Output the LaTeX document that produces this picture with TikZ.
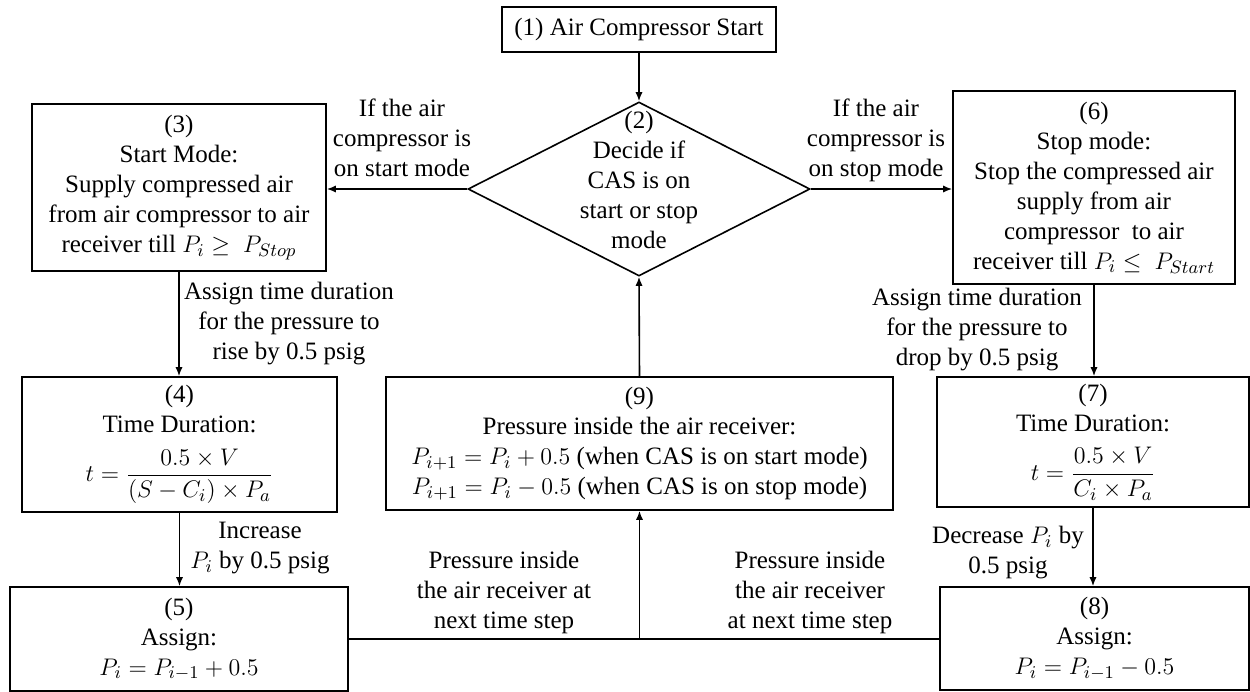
\documentclass[tikz,border=0pt]{standalone}
\usepackage{amsmath}
\usepackage{fontspec}
\setmainfont{Liberation Serif}
\usetikzlibrary{shapes.geometric,arrows.meta}
\newcommand\diagfont{\fontsize{12.5}{15}\selectfont}
\begin{document}
\begin{tikzpicture}[x=0.5pt,y=-0.5pt,
  box/.style={draw, line width=0.8pt, rectangle, inner sep=0pt, align=center, font=\diagfont},
  decision/.style={draw, line width=0.8pt, diamond, inner sep=0pt},
  lbl/.style={inner sep=0pt, align=center, font=\diagfont},
  arr/.style={line width=0.8pt, -{Latex[length=4.5pt,width=3.6pt]}},
  link/.style={line width=0.8pt}]
\useasboundingbox (0,0) rectangle (1250,692);

% process boxes
\node[box, minimum width=137pt, minimum height=22.5pt] (b1) at (639,29.5) {(1) Air Compressor Start};
\node[decision, minimum width=171pt, minimum height=87pt] (d2) at (639,189) {};
\node[lbl] (t2) at (639,180) {(2)\\Decide if\\CAS is on\\start or stop\\mode};
\node[box, minimum width=147pt, minimum height=83.5pt] (b3) at (179,187.5)
  {(3)\\Start Mode:\\Supply compressed air\\from air compressor to air\\receiver till $P_i \geq\ P_{Stop}$};
\node[box, minimum width=157.5pt, minimum height=67.5pt] (b4) at (179.5,444.5)
  {(4)\\Time Duration:\\[7pt]$t=\dfrac{0.5\times V}{(S-C_i)\times P_a}$};
\node[box, minimum width=169pt, minimum height=52pt] (b5) at (179,639)
  {(5)\\Assign:\\$P_i=P_{i-1}+0.5$};
\node[box, minimum width=141pt, minimum height=96.5pt] (b6) at (1094,187.5)
  {(6)\\Stop mode:\\Stop the compressed air\\supply from air\\compressor\ \ to air\\receiver till $P_i \leq\ P_{Start}$};
\node[box, minimum width=156pt, minimum height=65pt] (b7) at (1093,442)
  {(7)\\Time Duration:\\[7pt]$t=\dfrac{0.5\times V}{C_i\times P_a}$};
\node[box, minimum width=154.5pt, minimum height=51.5pt] (b8) at (1094.5,638.5)
  {(8)\\Assign:\\$P_i=P_{i-1}-0.5$};
\node[box, minimum width=253.5pt, minimum height=66.5pt] (b9) at (639.5,443.5)
  {(9)\\Pressure inside the air receiver:\\$P_{i+1}=P_i+0.5$ (when CAS is on start mode)\\$P_{i+1}=P_i-0.5$ (when CAS is on stop mode)};

% connector labels
\node[lbl] (lstart) at (402,138) {If the air\\compressor is\\on start mode};
\node[lbl] (lstop) at (876,140) {If the air\\compressor is\\on stop mode};
\node[lbl] (lrise) at (289,324) {Assign time duration\\for the pressure to\\rise by 0.5 psig};
\node[lbl] (ldrop) at (977,330) {Assign time duration\\for the pressure to\\drop by 0.5 psig};
\node[lbl] (linc) at (260,548) {Increase\\$P_i$ by 0.5 psig};
\node[lbl] (ldec) at (1008,553) {Decrease $P_i$ by\\0.5 psig};
\node[lbl] (lnexta) at (504,592) {Pressure inside\\the air receiver at\\next time step};
\node[lbl] (lnextb) at (810,592) {Pressure inside\\the air receiver\\at next time step};

% connectors
\draw[arr] (b1.south) -- (d2.north);
\draw[arr] (d2.west) -- (d2.west -| b3.east);
\draw[arr] (d2.east) -- (d2.east -| b6.west);
\draw[arr] (b3.south) -- (b3.south |- b4.north);
\draw[arr] (b4.south) -- (b4.south |- b5.north);
\draw[arr] (b6.south) -- (b6.south |- b7.north);
\draw[arr] (b7.south) -- (b7.south |- b8.north);
\coordinate (j) at (b9.south |- b5.east);
\draw[link] (b5.east) -- (b5.east -| b8.west);
\draw[arr] (j) -- (b9.south);
\draw[arr] (b9.north) -- (d2.south);
\end{tikzpicture}
\end{document}
